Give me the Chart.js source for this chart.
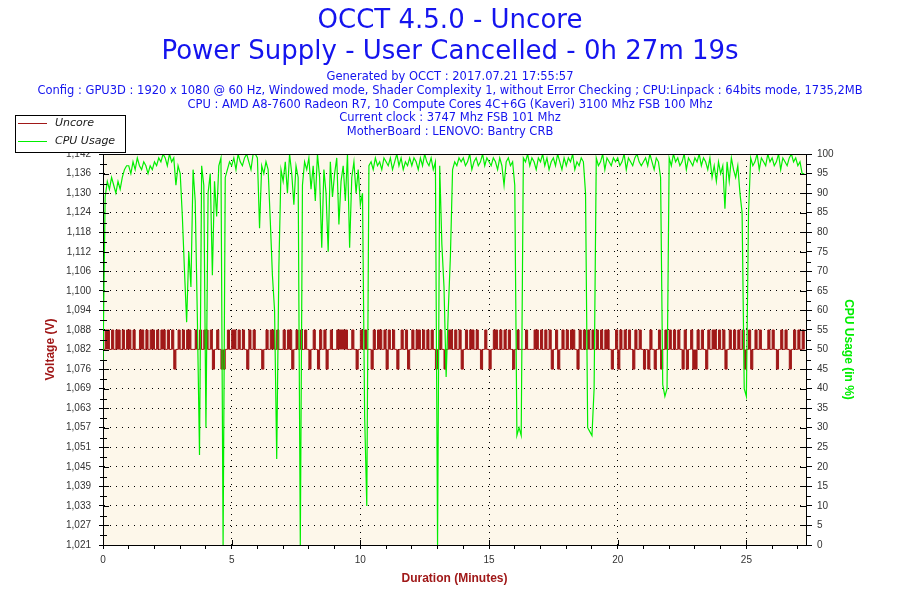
<!DOCTYPE html>
<html>
<head>
<meta charset="utf-8">
<title>OCCT 4.5.0 - Uncore</title>
<script src="https://cdn.jsdelivr.net/npm/chart.js@4.4.1/dist/chart.umd.min.js"></script>
<style>
	html, body { margin: 0; padding: 0; background: #fff; }
</style>
</head>
<body>
<canvas id="chart" width="900" height="600"></canvas>
<script>
/* ==========================================================================
 Data
 ========================================================================== */

const titleLines = [
	'OCCT 4.5.0 - Uncore',
	'Power Supply - User Cancelled - 0h 27m 19s',
];

const infoLines = [
	'Generated by OCCT : 2017.07.21 17:55:57',
	'Config : GPU3D : 1920 x 1080 @ 60 Hz, Windowed mode, Shader Complexity 1, without Error Checking ; CPU:Linpack : 64bits mode, 1735,2MB',
	'CPU : AMD A8-7600 Radeon R7, 10 Compute Cores 4C+6G (Kaveri) 3100 Mhz FSB 100 Mhz',
	'Current clock : 3747 Mhz FSB 101 Mhz',
	'MotherBoard : LENOVO: Bantry CRB',
];

const voltTickLabels = [
	'1,021', '1,027', '1,033', '1,039', '1,045', '1,051', '1,057',
	'1,063', '1,069', '1,076', '1,082', '1,088', '1,094', '1,100',
	'1,106', '1,112', '1,118', '1,124', '1,130', '1,136', '1,142',
];

// one sample every 5 seconds, one row per minute
const sampleSeconds = 5;
const durationMinutes = 27 + 19 / 60;

const uncoreVolts = [
	1.0816, 1.0876, 1.0876, 1.0816, 1.0876, 1.0816, 1.0876, 1.0876, 1.0816, 1.0876, 1.0816, 1.0876,
	1.0876, 1.0816, 1.0876, 1.0816, 1.0816, 1.0876, 1.0876, 1.0816, 1.0876, 1.0816, 1.0876, 1.0876,
	1.0816, 1.0876, 1.0816, 1.0876, 1.0876, 1.0816, 1.0876, 1.0816, 1.0876, 1.0755, 1.0816, 1.0876,
	1.0816, 1.0876, 1.0816, 1.0876, 1.0876, 1.0816, 1.0816, 1.0876, 1.0816, 1.0876, 1.0816, 1.0876,
	1.0876, 1.0816, 1.0876, 1.0755, 1.0816, 1.0876, 1.0816, 1.0755, 1.0755, 1.0816, 1.0876, 1.0816,
	1.0876, 1.0876, 1.0816, 1.0876, 1.0816, 1.0876, 1.0816, 1.0755, 1.0876, 1.0816, 1.0876, 1.0816,
	1.0816, 1.0816, 1.0755, 1.0816, 1.0876, 1.0816, 1.0876, 1.0876, 1.0816, 1.0876, 1.0816, 1.0816,
	1.0876, 1.0816, 1.0876, 1.0876, 1.0755, 1.0816, 1.0876, 1.0816, 1.0876, 1.0816, 1.0876, 1.0816,
	1.0755, 1.0816, 1.0876, 1.0816, 1.0755, 1.0876, 1.0816, 1.0876, 1.0755, 1.0816, 1.0876, 1.0816,
	1.0816, 1.0876, 1.0876, 1.0876, 1.0876, 1.0876, 1.0816, 1.0816, 1.0876, 1.0816, 1.0755, 1.0816,
	1.0876, 1.0816, 1.0876, 1.0816, 1.0816, 1.0755, 1.0876, 1.0816, 1.0876, 1.0876, 1.0816, 1.0876,
	1.0755, 1.0876, 1.0816, 1.0876, 1.0816, 1.0755, 1.0816, 1.0876, 1.0816, 1.0876, 1.0755, 1.0816,
	1.0876, 1.0816, 1.0876, 1.0876, 1.0816, 1.0876, 1.0816, 1.0876, 1.0816, 1.0876, 1.0816, 1.0755,
	1.0816, 1.0876, 1.0816, 1.0755, 1.0816, 1.0876, 1.0876, 1.0816, 1.0876, 1.0816, 1.0876, 1.0755,
	1.0816, 1.0876, 1.0816, 1.0876, 1.0876, 1.0816, 1.0876, 1.0816, 1.0755, 1.0816, 1.0876, 1.0816,
	1.0755, 1.0816, 1.0876, 1.0876, 1.0816, 1.0876, 1.0816, 1.0876, 1.0816, 1.0876, 1.0816, 1.0755,
	1.0816, 1.0876, 1.0816, 1.0816, 1.0816, 1.0876, 1.0816, 1.0816, 1.0816, 1.0876, 1.0876, 1.0816,
	1.0876, 1.0816, 1.0876, 1.0816, 1.0876, 1.0755, 1.0816, 1.0876, 1.0755, 1.0816, 1.0876, 1.0816,
	1.0876, 1.0816, 1.0876, 1.0876, 1.0816, 1.0755, 1.0876, 1.0816, 1.0876, 1.0816, 1.0876, 1.0816,
	1.0876, 1.0816, 1.0876, 1.0816, 1.0876, 1.0816, 1.0876, 1.0876, 1.0816, 1.0755, 1.0816, 1.0876,
	1.0755, 1.0876, 1.0816, 1.0876, 1.0816, 1.0876, 1.0816, 1.0755, 1.0876, 1.0816, 1.0876, 1.0816,
	1.0755, 1.0816, 1.0755, 1.0876, 1.0816, 1.0755, 1.0816, 1.0876, 1.0755, 1.0816, 1.0876, 1.0816,
	1.0876, 1.0816, 1.0876, 1.0816, 1.0876, 1.0816, 1.0755, 1.0876, 1.0755, 1.0816, 1.0876, 1.0755,
	1.0755, 1.0876, 1.0816, 1.0876, 1.0816, 1.0755, 1.0876, 1.0816, 1.0876, 1.0876, 1.0816, 1.0876,
	1.0816, 1.0876, 1.0755, 1.0816, 1.0876, 1.0816, 1.0876, 1.0816, 1.0876, 1.0816, 1.0876, 1.0755,
	1.0816, 1.0876, 1.0755, 1.0816, 1.0876, 1.0816, 1.0876, 1.0816, 1.0816, 1.0816, 1.0876, 1.0816,
	1.0876, 1.0816, 1.0755, 1.0816, 1.0876, 1.0816, 1.0876, 1.0816, 1.0755, 1.0816, 1.0876, 1.0816,
	1.0876, 1.0816, 1.0876, 1.0816,
];

const cpuUsage = [
	47, 89, 93, 91, 94, 92, 90, 93, 91, 94, 96, 97,
	97, 95, 98, 96, 99, 97, 96, 98, 97, 95, 97, 96,
	98, 97, 99, 98, 100, 99, 97, 100, 98, 99, 92, 97,
	95, 84, 70, 57, 75, 66, 96, 88, 58, 23, 97, 92,
	30, 90, 95, 69, 93, 84, 97, 99, 0, 94, 96, 98,
	97, 99, 96, 100, 98, 97, 99, 100, 98, 96, 100, 100,
	99, 81, 97, 95, 98, 96, 83, 69, 60, 22, 71, 96,
	93, 98, 90, 100, 95, 87, 97, 94, 0, 92, 98, 96,
	99, 91, 97, 88, 100, 94, 76, 96, 90, 75, 98, 89,
	95, 99, 82, 93, 97, 88, 100, 76, 94, 98, 90, 96,
	87, 90, 33, 10, 97, 98, 96, 99, 97, 98, 96, 99,
	98, 97, 99, 96, 98, 100, 97, 99, 96, 98, 97, 99,
	97, 99, 98, 96, 99, 97, 100, 98, 97, 99, 96, 98,
	0, 97, 77, 66, 43, 60, 74, 96, 98, 97, 99, 98,
	99, 97, 98, 100, 96, 98, 99, 97, 98, 100, 97, 99,
	98, 97, 99, 98, 96, 99, 97, 92, 98, 99, 97, 98,
	92, 28, 30, 28, 99, 98, 100, 97, 99, 98, 96, 99,
	98, 100, 97, 99, 96, 98, 99, 97, 100, 98, 96, 99,
	97, 99, 98, 100, 96, 98, 97, 99, 98, 90, 30, 29,
	28, 40, 99, 97, 98, 100, 96, 99, 98, 97, 99, 98,
	99, 97, 98, 100, 96, 99, 98, 97, 99, 100, 98, 97,
	98, 99, 97, 100, 98, 96, 99, 98, 94, 41, 38, 40,
	99, 97, 100, 98, 99, 97, 98, 100, 96, 99, 98, 97,
	99, 98, 100, 97, 99, 98, 96, 99, 94, 97, 93, 98,
	95, 97, 86, 98, 93, 99, 96, 94, 97, 90, 85, 40,
	38, 85, 99, 97, 98, 100, 96, 99, 98, 97, 100, 98,
	99, 97, 98, 100, 96, 99, 98, 97, 99, 100, 98, 99,
	97, 98, 95, 95,
];

/* ==========================================================================
 Setup
 ========================================================================== */

const colors = {
	uncore: '#a01818',
	cpu: '#00ee00',
	text: '#1414ee',
	ticks: '#333333',
	plot: '#fdf7ea',
};

const sampleMinute = i => i * sampleSeconds / 60;

const uncorePoints = uncoreVolts.map((v, i) => ({x: sampleMinute(i), y: v}));
const cpuPoints = cpuUsage.map((v, i) => ({x: sampleMinute(i), y: v}));

const tickFont = {family: "'Liberation Sans', Arial, sans-serif", size: 10};
const axisTitleFont = {family: "'Liberation Sans', Arial, sans-serif", size: 12, weight: 'bold'};

/* ==========================================================================
 Plugins
 ========================================================================== */

const plotBackground = {
	id: 'plotBackground',
	beforeDraw(chart) {
		const {ctx, chartArea: a} = chart;
		ctx.save();
		ctx.fillStyle = '#fff';
		ctx.fillRect(0, 0, chart.width, chart.height);
		ctx.fillStyle = colors.plot;
		ctx.fillRect(a.left, a.top, a.right - a.left, a.bottom - a.top);
		ctx.restore();
	}
};

// top border and the small tick marks OCCT draws inside the frame
const frameTicks = {
	id: 'frameTicks',
	afterDraw(chart) {
		const {ctx, chartArea: a, scales} = chart;
		ctx.save();
		ctx.strokeStyle = '#000';
		ctx.lineWidth = 1;
		ctx.beginPath();
		ctx.moveTo(a.left, a.top + 0.5);
		ctx.lineTo(a.right + 1, a.top + 0.5);

		const left = scales.yVolt;
		left.ticks.forEach((t, i) => {
			const y = Math.round(left.getPixelForValue(t.value)) + 0.5;
			ctx.moveTo(a.left, y);
			ctx.lineTo(a.left + 6, y);
			if (i < left.ticks.length - 1) {
				const m = Math.round((y + left.getPixelForValue(left.ticks[i + 1].value)) / 2) + 0.5;
				ctx.moveTo(a.left - 3, m);
				ctx.lineTo(a.left + 4, m);
			}
		});

		const right = scales.yCpu;
		right.ticks.forEach((t, i) => {
			const y = Math.round(right.getPixelForValue(t.value)) + 0.5;
			ctx.moveTo(a.right - 6, y);
			ctx.lineTo(a.right, y);
			if (i < right.ticks.length - 1) {
				const m = Math.round((y + right.getPixelForValue(right.ticks[i + 1].value)) / 2) + 0.5;
				ctx.moveTo(a.right, m);
				ctx.lineTo(a.right + 5, m);
			}
		});

		const x = scales.x;
		x.ticks.forEach(t => {
			if (t.value % 5 !== 0) return;
			const px = Math.round(x.getPixelForValue(t.value)) + 0.5;
			ctx.moveTo(px, a.bottom - 5);
			ctx.lineTo(px, a.bottom);
		});
		ctx.stroke();
		ctx.restore();
	}
};

const headerText = {
	id: 'headerText',
	afterDraw(chart) {
		const ctx = chart.ctx;
		const cx = chart.width / 2;
		ctx.save();
		ctx.fillStyle = colors.text;
		ctx.textAlign = 'center';
		ctx.textBaseline = 'middle';
		ctx.font = "26px 'DejaVu Sans', sans-serif";
		titleLines.forEach((line, i) => ctx.fillText(line, cx, 21 + i * 31));
		ctx.font = "11.5px 'DejaVu Sans', sans-serif";
		infoLines.forEach((line, i) => ctx.fillText(line, cx, 77 + i * 13.8));
		ctx.restore();
	}
};

const boxLegend = {
	id: 'boxLegend',
	afterDraw(chart) {
		const ctx = chart.ctx;
		ctx.save();
		ctx.fillStyle = '#fff';
		ctx.fillRect(15, 115, 110, 37);
		ctx.strokeStyle = '#000';
		ctx.lineWidth = 1;
		ctx.strokeRect(15.5, 115.5, 110, 37);
		ctx.font = "italic 11px 'DejaVu Sans', sans-serif";
		ctx.textBaseline = 'middle';
		chart.data.datasets.forEach((ds, i) => {
			const y = 123.5 + i * 18;
			ctx.strokeStyle = ds.borderColor;
			ctx.beginPath();
			ctx.moveTo(18, y);
			ctx.lineTo(47, y);
			ctx.stroke();
			ctx.fillStyle = '#1a1a1a';
			ctx.fillText(ds.label, 55, y);
		});
		ctx.restore();
	}
};

/* ==========================================================================
 Config
 ========================================================================== */

const config = {
	type: 'line',
	data: {
		datasets: [
			{
				label: 'Uncore',
				data: uncorePoints,
				borderColor: colors.uncore,
				backgroundColor: colors.uncore,
				borderWidth: 1,
				stepped: true,
				// rapid toggling reads as solid blocks around the 1,082 level
				fill: {value: 1.0816},
				yAxisID: 'yVolt',
				order: 1,
			},
			{
				label: 'CPU Usage',
				data: cpuPoints,
				borderColor: colors.cpu,
				borderWidth: 1.2,
				yAxisID: 'yCpu',
				order: 0,
			},
		],
	},
	options: {
		responsive: false,
		animation: false,
		elements: {
			point: {radius: 0},
			line: {tension: 0},
		},
		layout: {
			padding: {top: 154, left: 0, right: 0, bottom: 0},
		},
		scales: {
			x: {
				type: 'linear',
				min: 0,
				max: durationMinutes,
				afterFit(scale) {
					scale.height = 55;
				},
				ticks: {
					stepSize: 1,
					includeBounds: false,
					autoSkip: false,
					maxRotation: 0,
					padding: 5,
					color: colors.ticks,
					font: tickFont,
					callback: v => (v % 5 === 0 ? v : ''),
				},
				grid: {
					color: ctx => (ctx.tick && ctx.tick.value > 0 && ctx.tick.value % 5 === 0 ? '#000' : 'rgba(0,0,0,0)'),
					tickColor: '#000',
					tickLength: 4,
				},
				border: {color: '#000', dash: [1, 5]},
				title: {
					display: true,
					text: 'Duration (Minutes)',
					color: colors.uncore,
					font: axisTitleFont,
					padding: {top: 0, bottom: 14},
				},
			},
			yVolt: {
				type: 'linear',
				position: 'left',
				min: 1.02107,
				max: 1.14207,
				afterFit(scale) {
					scale.width = 103;
				},
				ticks: {
					stepSize: 0.00605,
					autoSkip: false,
					padding: 8,
					color: colors.ticks,
					font: tickFont,
					callback: (v, i) => voltTickLabels[i],
				},
				grid: {
					color: '#000',
					tickColor: '#000',
					tickLength: 4,
				},
				border: {color: '#000', dash: [1, 5]},
				title: {
					display: true,
					text: 'Voltage (V)',
					color: colors.uncore,
					font: axisTitleFont,
					padding: {top: 43, bottom: 0},
				},
			},
			yCpu: {
				type: 'linear',
				position: 'right',
				min: 0,
				max: 100,
				afterFit(scale) {
					scale.width = 94;
				},
				ticks: {
					stepSize: 5,
					autoSkip: false,
					padding: 5,
					color: colors.ticks,
					font: tickFont,
				},
				grid: {
					drawOnChartArea: false,
					tickColor: '#000',
					tickLength: 6,
				},
				border: {color: '#000'},
				title: {
					display: true,
					text: 'CPU Usage (in %)',
					color: colors.cpu,
					font: axisTitleFont,
					padding: {top: 44, bottom: 0},
				},
			},
		},
		plugins: {
			legend: {display: false},
			tooltip: {enabled: false},
		},
	},
	plugins: [plotBackground, frameTicks, headerText, boxLegend],
};

/* ==========================================================================
 Render
 ========================================================================== */

const myChart = new Chart(document.getElementById('chart'), config);
</script>
</body>
</html>
